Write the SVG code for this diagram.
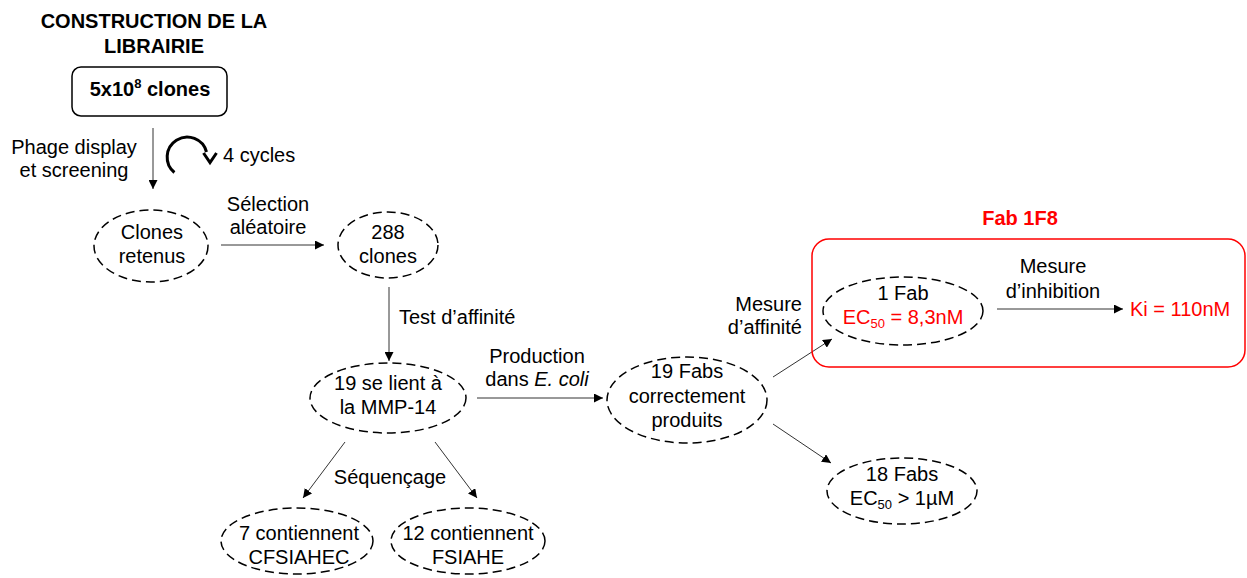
<svg xmlns="http://www.w3.org/2000/svg" width="1247" height="578" viewBox="0 0 1247 578">
<defs>
<marker id="ah" viewBox="0 0 10 10" refX="10" refY="5" markerWidth="9" markerHeight="9" markerUnits="userSpaceOnUse" orient="auto">
<path d="M0,0 L10,5 L0,10 z" fill="#000"/>
</marker>
<style>
text{font-family:"Liberation Sans",Arial,sans-serif;font-size:20px;fill:#000}
.b{font-weight:bold}
.m{text-anchor:middle}
.red{fill:#FF0000}
.el{fill:#fff;stroke:#000;stroke-width:1.5;stroke-dasharray:9 5}
.c{stroke:#333;stroke-width:1;fill:none;marker-end:url(#ah)}
</style>
</defs>
<rect width="1247" height="578" fill="#fff"/>
<g id="title">
<text class="b m" x="154" y="28">CONSTRUCTION DE LA</text>
<text class="b m" x="154" y="53">LIBRAIRIE</text>
</g>
<g id="library">
<rect x="72" y="67" width="155" height="49" rx="9" fill="#fff" stroke="#000" stroke-width="1.5"/>
<text class="b m" x="150" y="96">5x10<tspan font-size="13" dy="-8">8</tspan><tspan dy="8"> clones</tspan></text>
</g>
<g id="connectors">
<line class="c" x1="153" y1="128" x2="153" y2="189"/>
<line class="c" x1="221" y1="245" x2="324" y2="245"/>
<line class="c" x1="389" y1="287" x2="389" y2="361"/>
<line class="c" x1="477" y1="398" x2="603" y2="398"/>
<line class="c" x1="773" y1="377" x2="832" y2="339"/>
<line class="c" x1="773" y1="424" x2="831" y2="463"/>
<line class="c" x1="345" y1="442" x2="303" y2="498"/>
<line class="c" x1="435" y1="442" x2="477" y2="498"/>
<line class="c" x1="997" y1="309" x2="1123" y2="309"/>
</g>
<g id="cycle">
<path d="M174.4,172.5 A20,20 0 1 1 206.5,152" fill="none" stroke="#000" stroke-width="3"/>
<path d="M203.5,153 L210,162.5 L216.5,153" fill="none" stroke="#000" stroke-width="3"/>
<text x="223" y="162">4 cycles</text>
</g>
<g id="labels">
<text class="m" x="74" y="154">Phage display</text>
<text class="m" x="74" y="177">et screening</text>
<text class="m" x="268" y="211">Sélection</text>
<text class="m" x="268" y="234">aléatoire</text>
<text x="399" y="324">Test d’affinité</text>
<text class="m" x="537" y="363">Production</text>
<text class="m" x="537" y="386">dans <tspan font-style="italic">E. coli</tspan></text>
<text x="802" y="311" text-anchor="end">Mesure</text>
<text x="802" y="334" text-anchor="end">d’affinité</text>
<text class="m" x="390" y="484">Séquençage</text>
<text class="m" x="1053" y="273">Mesure</text>
<text class="m" x="1053" y="298">d’inhibition</text>
</g>
<g id="n-clones-retenus">
<ellipse class="el" cx="151" cy="246" rx="57" ry="36"/>
<text class="m" x="152" y="239">Clones</text>
<text class="m" x="152" y="263">retenus</text>
</g>
<g id="n-288">
<ellipse class="el" cx="388" cy="245" rx="50" ry="33"/>
<text class="m" x="388" y="239">288</text>
<text class="m" x="388" y="263">clones</text>
</g>
<g id="n-19-lient">
<ellipse class="el" cx="388" cy="398" rx="78" ry="35"/>
<text class="m" x="388" y="390">19 se lient à</text>
<text class="m" x="388" y="414">la MMP-14</text>
</g>
<g id="n-19-fabs">
<ellipse class="el" cx="687" cy="400" rx="80" ry="43"/>
<text class="m" x="687" y="378">19 Fabs</text>
<text class="m" x="687" y="403">correctement</text>
<text class="m" x="687" y="427">produits</text>
</g>
<g id="fab1f8">
<text class="b m red" x="1020" y="225">Fab 1F8</text>
<rect x="812" y="239" width="433" height="128" rx="17" fill="none" stroke="#FF0000" stroke-width="1.5"/>
</g>
<g id="n-1-fab">
<ellipse class="el" cx="903" cy="311" rx="80" ry="34"/>
<text class="m" x="903" y="300">1 Fab</text>
<text class="m red" x="903" y="324">EC<tspan font-size="13" dy="4">50</tspan><tspan dy="-4"> = 8,3nM</tspan></text>
</g>
<g id="ki">
<text class="red" x="1130" y="316">Ki = 110nM</text>
</g>
<g id="n-18-fabs">
<ellipse class="el" cx="902" cy="491" rx="75" ry="33"/>
<text class="m" x="902" y="481">18 Fabs</text>
<text class="m" x="902" y="505">EC<tspan font-size="13" dy="4">50</tspan><tspan dy="-4"> &gt; 1µM</tspan></text>
</g>
<g id="n-7">
<ellipse class="el" cx="297" cy="541" rx="76" ry="33"/>
<text class="m" x="299" y="540">7 contiennent</text>
<text class="m" x="299" y="564">CFSIAHEC</text>
</g>
<g id="n-12">
<ellipse class="el" cx="468" cy="541" rx="77" ry="33"/>
<text class="m" x="468" y="540">12 contiennent</text>
<text class="m" x="468" y="564">FSIAHE</text>
</g>
</svg>
